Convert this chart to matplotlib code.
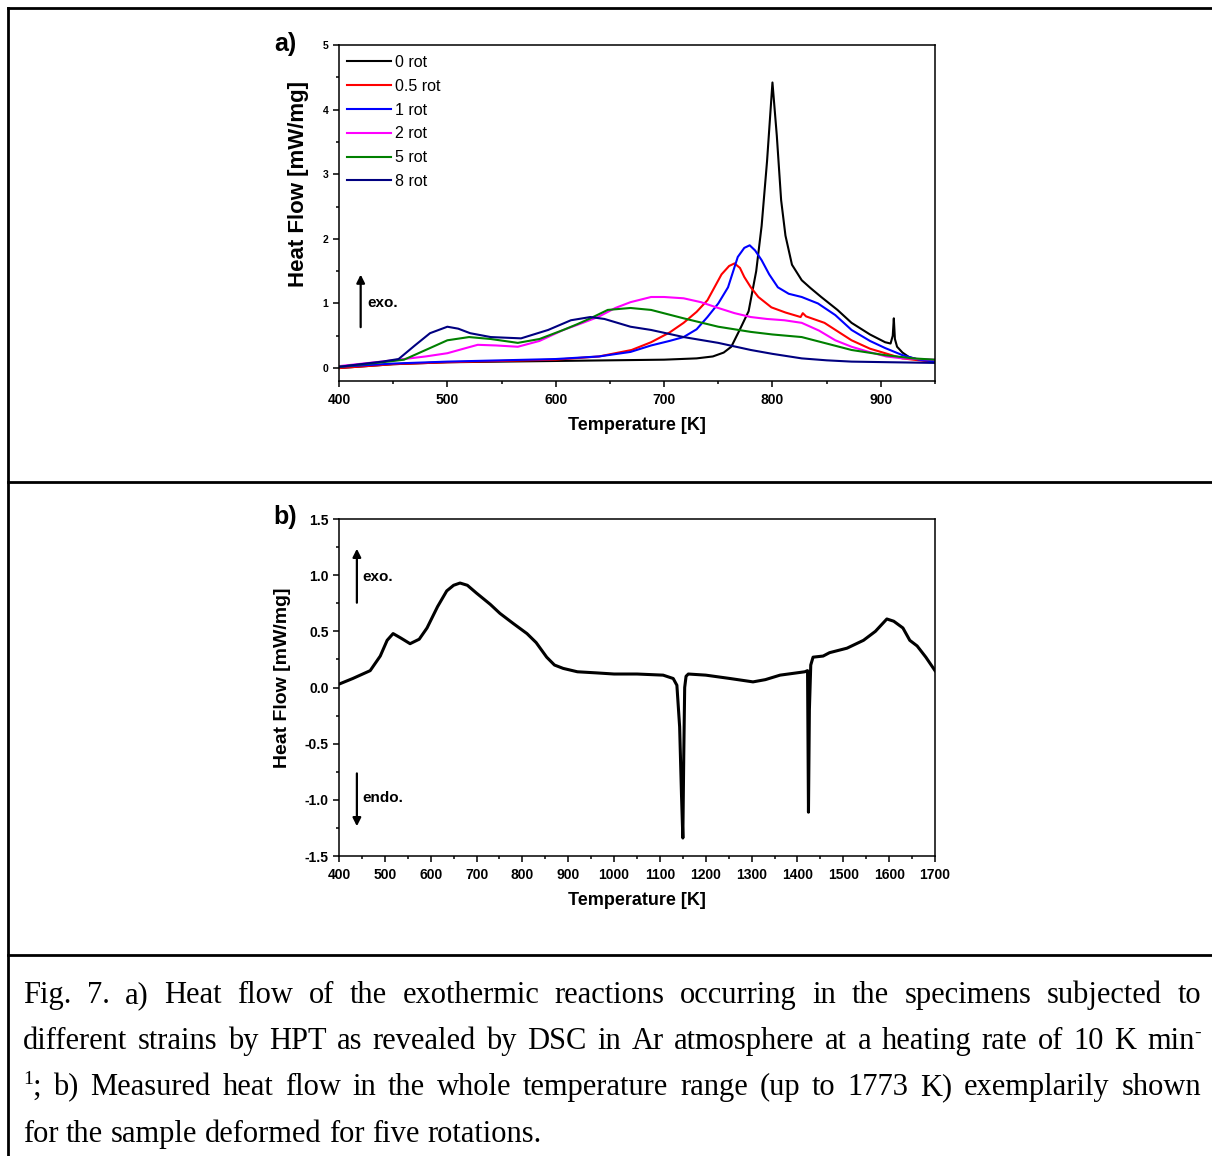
import numpy as np
import matplotlib
matplotlib.use('Agg')
from matplotlib import pyplot as plt
from matplotlib.lines import Line2D
from matplotlib.ticker import MultipleLocator, FormatStrFormatter

plt.rcParams['font.family'] = 'Liberation Sans'
plt.rcParams['axes.unicode_minus'] = False

#
# panel a) heat flow for the different numbers of rotations
#
labels_a = ['0 rot', '0.5 rot', '1 rot', '2 rot', '5 rot', '8 rot']
colors_a = ['#000000', '#ff0000', '#0000ff', '#ff00ff', '#008000', '#000080']

T_0rot = [400, 450, 500, 550, 600, 650, 700, 730, 745, 755, 762, 770, 778, 785, 790, 795,
          800, 804, 808, 812, 818, 827, 835, 845, 860, 873, 890, 904, 909, 911, 912, 913,
          915, 920, 926, 935, 950]
H_0rot = [0.0, 0.06, 0.09, 0.1, 0.11, 0.12, 0.13, 0.15, 0.18, 0.24, 0.33, 0.6, 0.88, 1.5, 2.2, 3.2,
          4.42, 3.6, 2.6, 2.05, 1.6, 1.36, 1.24, 1.1, 0.9, 0.7, 0.52, 0.4, 0.38, 0.5, 0.77, 0.45,
          0.33, 0.24, 0.17, 0.13, 0.1]

T_05rot = [400, 450, 500, 550, 600, 640, 670, 688, 705, 718, 730, 740, 753, 760, 765, 770, 774,
           780, 787, 799, 812, 826, 828, 831, 848, 860, 873, 890, 904, 920, 935, 950]
H_05rot = [0.0, 0.06, 0.09, 0.11, 0.13, 0.18, 0.28, 0.4, 0.55, 0.7, 0.87, 1.05, 1.45, 1.58, 1.62, 1.55, 1.41,
           1.25, 1.1, 0.94, 0.86, 0.79, 0.85, 0.8, 0.7, 0.57, 0.43, 0.3, 0.23, 0.15, 0.12, 0.1]

T_1rot = [400, 450, 500, 550, 600, 640, 669, 688, 705, 718, 730, 740, 750, 759, 768, 774, 779,
          784, 790, 797, 805, 815, 827, 842, 858, 873, 890, 904, 920, 935, 950]
H_1rot = [0.02, 0.07, 0.1, 0.12, 0.14, 0.18, 0.25, 0.35, 0.42, 0.48, 0.6, 0.79, 1.0, 1.25, 1.72, 1.86, 1.9,
          1.82, 1.67, 1.45, 1.25, 1.15, 1.1, 1.0, 0.82, 0.59, 0.42, 0.31, 0.2, 0.13, 0.1]

T_2rot = [400, 450, 480, 500, 515, 528, 545, 565, 585, 607, 625, 639, 655, 669, 688, 700, 718,
          734, 750, 765, 780, 795, 811, 827, 843, 858, 873, 889, 905, 920, 950]
H_2rot = [0.03, 0.12, 0.18, 0.23, 0.3, 0.36, 0.35, 0.33, 0.42, 0.59, 0.7, 0.79, 0.93, 1.02, 1.1, 1.1, 1.08,
          1.02, 0.93, 0.85, 0.79, 0.76, 0.74, 0.7, 0.58, 0.43, 0.33, 0.25, 0.18, 0.15, 0.13]

T_5rot = [400, 440, 460, 480, 500, 520, 540, 565, 585, 607, 620, 632, 648, 669, 688, 718, 750,
          780, 800, 827, 850, 873, 904, 930, 950]
H_5rot = [0.02, 0.09, 0.13, 0.28, 0.43, 0.48, 0.45, 0.39, 0.45, 0.59, 0.68, 0.77, 0.9, 0.93, 0.9, 0.77, 0.64,
          0.56, 0.52, 0.48, 0.38, 0.28, 0.2, 0.15, 0.13]

T_8rot = [400, 440, 455, 470, 484, 500, 510, 521, 540, 568, 593, 614, 632, 645, 669, 688, 718,
          750, 780, 800, 827, 850, 873, 910, 950]
H_8rot = [0.02, 0.1, 0.14, 0.35, 0.54, 0.64, 0.61, 0.54, 0.48, 0.46, 0.59, 0.74, 0.79, 0.76, 0.64, 0.59, 0.48,
          0.39, 0.28, 0.22, 0.15, 0.12, 0.1, 0.09, 0.08]

#
# panel b) whole temperature range, five rotations
#
T_b = [400, 430, 468, 490, 505, 518, 535, 555, 575, 592, 615, 635, 650, 664, 680, 700, 730, 751,
       780, 810, 830, 853, 870, 889, 920, 962, 1000, 1050, 1107, 1129, 1137, 1143, 1147, 1150,
       1152, 1154, 1157, 1162, 1200, 1253, 1303, 1330, 1362, 1416, 1422, 1424, 1426, 1429, 1434,
       1456, 1470, 1508, 1544, 1570, 1595, 1610, 1630, 1645, 1661, 1680, 1700]
H_b = [0.03, 0.08, 0.15, 0.28, 0.42, 0.48, 0.44, 0.39, 0.43, 0.53, 0.72, 0.86, 0.91, 0.93, 0.91, 0.84, 0.74, 0.66,
       0.57, 0.48, 0.4, 0.27, 0.2, 0.17, 0.14, 0.13, 0.12, 0.12, 0.11, 0.08, 0.02, -0.35, -0.95, -1.34,
       -0.6, 0.0, 0.1, 0.12, 0.11, 0.08, 0.05, 0.07, 0.11, 0.14, 0.15, -1.11, -0.2, 0.2, 0.27,
       0.28, 0.31, 0.35, 0.42, 0.5, 0.61, 0.59, 0.53, 0.42, 0.37, 0.27, 0.15]

caption_lines = [
    'Fig. 7. a) Heat flow of the exothermic reactions occurring in the specimens subjected to',
    'different strains by HPT as revealed by DSC in Ar atmosphere at a heating rate of 10 K min',
    '; b) Measured heat flow in the whole temperature range (up to 1773 K) exemplarily shown',
    'for the sample deformed for five rotations.',
]

W, H = 1212, 1156
fig = plt.figure(figsize=(W / 100, H / 100), dpi=100)


def fx(px):
    return px / W


def fy(py):
    return 1 - py / H


def style_axes(ax, xtick_size, ytick_size):
    for sp in ax.spines.values():
        sp.set_linewidth(1.1)
    ax.tick_params(which='both', direction='out', top=False, right=False, width=1.1)
    ax.tick_params(which='major', length=4.5)
    ax.tick_params(which='minor', length=2.5)
    ax.tick_params(axis='x', labelsize=xtick_size, pad=4)
    ax.tick_params(axis='y', labelsize=ytick_size, pad=3)
    for lab in ax.get_xticklabels() + ax.get_yticklabels():
        lab.set_fontweight('bold')


# ---------------- panel a
ax1 = fig.add_axes([fx(339), fy(381), fx(596), 336 / H])
series = [(T_0rot, H_0rot), (T_05rot, H_05rot), (T_1rot, H_1rot),
          (T_2rot, H_2rot), (T_5rot, H_5rot), (T_8rot, H_8rot)]
for (tt, hh), lab, col in zip(series, labels_a, colors_a):
    ax1.plot(tt, hh, color=col, lw=1.5, label=lab)
ax1.set_xlim(400, 950)
ax1.set_ylim(-0.2, 5)
ax1.xaxis.set_major_locator(MultipleLocator(100))
ax1.xaxis.set_minor_locator(MultipleLocator(50))
ax1.yaxis.set_major_locator(MultipleLocator(1))
ax1.yaxis.set_minor_locator(MultipleLocator(0.5))
style_axes(ax1, 10, 7.5)
ax1.set_xlabel('Temperature [K]', fontsize=13, fontweight='bold')
ax1.set_ylabel('Heat Flow [mW/mg]', fontsize=16, fontweight='bold')
ax1.xaxis.set_label_coords(0.5, -0.107)
ax1.yaxis.set_label_coords(-0.05, 0.586)
leg = ax1.legend(loc='upper left', bbox_to_anchor=(0.013, 0.970), frameon=False,
                 fontsize=11.5, handlelength=2.8, handletextpad=0.2, labelspacing=0.55,
                 borderpad=0, borderaxespad=0)
ax1.annotate('', xy=(420, 1.49), xytext=(420, 0.59),
             arrowprops=dict(arrowstyle='-|>', lw=1.6, color='k', mutation_scale=12))
ax1.text(426, 1.0, 'exo.', fontsize=11, fontweight='bold', va='center')
fig.text(fx(285), fy(44), 'a)', fontsize=18, fontweight='bold', ha='center', va='center')

# ---------------- panel b
ax2 = fig.add_axes([fx(339), fy(856), fx(596), 337 / H])
ax2.plot(T_b, H_b, color='k', lw=2.2)
ax2.set_xlim(400, 1700)
ax2.set_ylim(-1.5, 1.5)
ax2.xaxis.set_major_locator(MultipleLocator(100))
ax2.xaxis.set_minor_locator(MultipleLocator(50))
ax2.yaxis.set_major_locator(MultipleLocator(0.5))
ax2.yaxis.set_minor_locator(MultipleLocator(0.25))
ax2.yaxis.set_major_formatter(FormatStrFormatter('%.1f'))
style_axes(ax2, 10, 10)
ax2.set_xlabel('Temperature [K]', fontsize=13, fontweight='bold')
ax2.set_ylabel('Heat Flow [mW/mg]', fontsize=14, fontweight='bold')
ax2.xaxis.set_label_coords(0.5, -0.107)
ax2.yaxis.set_label_coords(-0.08, 0.528)
ax2.annotate('', xy=(439, 1.26), xytext=(439, 0.73),
             arrowprops=dict(arrowstyle='-|>', lw=1.6, color='k', mutation_scale=12))
ax2.text(450, 0.98, 'exo.', fontsize=11, fontweight='bold', va='center')
ax2.annotate('', xy=(439, -1.26), xytext=(439, -0.74),
             arrowprops=dict(arrowstyle='-|>', lw=1.6, color='k', mutation_scale=12))
ax2.text(450, -0.98, 'endo.', fontsize=11, fontweight='bold', va='center')
fig.text(fx(285), fy(517), 'b)', fontsize=18, fontweight='bold', ha='center', va='center')

# ---------------- table borders
for (x0, y0, x1, y1) in [(8, 8, W, 8), (8, 8, 8, H), (8, 482, W, 482), (8, 955, W, 955)]:
    fig.add_artist(Line2D([fx(x0), fx(x1)], [fy(y0), fy(y1)], color='k', lw=2,
                          transform=fig.transFigure))

# ---------------- caption, justified
renderer = fig.canvas.get_renderer()
cap_size = 22
sup_size = 14
left, right = 23, 1201


def place_line(words, y_base, justify=True):
    # words: list of lists of (text, size, rise)
    made = []
    widths = []
    for w in words:
        pieces = []
        wsum = 0
        for s, size, rise in w:
            t = fig.text(0, fy(y_base + rise), s, fontsize=size, family='Liberation Serif',
                         va='baseline', ha='left')
            pw = t.get_window_extent(renderer=renderer).width
            pieces.append((t, wsum))
            wsum += pw
        made.append(pieces)
        widths.append(wsum)
    if justify and len(words) > 1:
        gap = (right - left - sum(widths)) / (len(words) - 1)
    else:
        sp = fig.text(0, 0, 'a a', fontsize=cap_size, family='Liberation Serif')
        sa = fig.text(0, 0, 'aa', fontsize=cap_size, family='Liberation Serif')
        gap = (sp.get_window_extent(renderer=renderer).width
               - sa.get_window_extent(renderer=renderer).width)
        sp.remove()
        sa.remove()
    x = left
    for pieces, wsum in zip(made, widths):
        for t, off in pieces:
            t.set_x(fx(x + off))
        x += wsum + gap


def plain(line):
    return [[(w, cap_size, 0)] for w in line.split(' ')]


l1 = plain(caption_lines[0])
l2 = plain(caption_lines[1])
l2[-1] = [(l2[-1][0][0], cap_size, 0), ('-', sup_size, -11)]
l3 = plain(caption_lines[2])
l3[0] = [('1', sup_size, -11), (l3[0][0][0], cap_size, 0)]
l4 = plain(caption_lines[3])

place_line(l1, 1003)
place_line(l2, 1049)
place_line(l3, 1095)
place_line(l4, 1142, justify=False)

fig.savefig('out.png', dpi=100)
